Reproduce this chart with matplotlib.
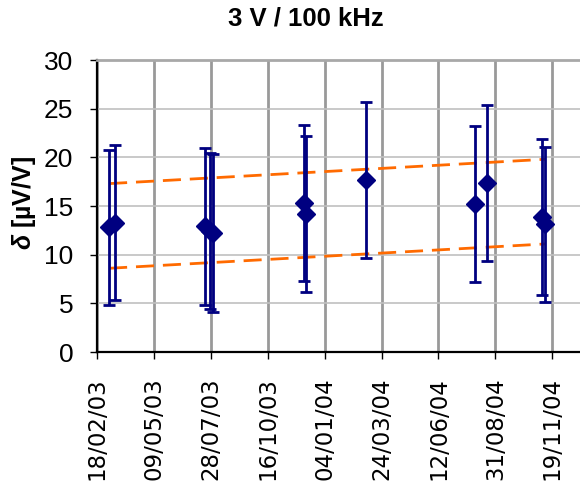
import matplotlib
matplotlib.use("Agg")
import matplotlib.pyplot as plt
import pandas as pd

DATES = [
    "2003-03-07", "2003-03-15", "2003-07-20", "2003-07-27", "2003-07-31",
    "2003-12-06", "2003-12-09", "2004-03-02", "2004-08-02", "2004-08-19",
    "2004-11-05", "2004-11-09",
]
DELTA = [12.8, 13.3, 12.9, 12.4, 12.2, 15.3, 14.2, 17.7, 15.2, 17.4, 13.9, 13.1]
ERR = [8.0, 8.0, 8.05, 8.0, 8.1, 8.0, 8.0, 8.0, 8.0, 8.0, 8.0, 8.0]

# limit lines (start / end)
LIMIT_DATES = ["2003-03-07", "2004-11-09"]
UPPER = [17.3, 19.8]
LOWER = [8.6, 11.1]

TICK_LABELS = [
    "18/02/03", "09/05/03", "28/07/03", "16/10/03", "04/01/04",
    "24/03/04", "12/06/04", "31/08/04", "19/11/04",
]
X_START = "2003-02-18"
X_END = "2004-12-28"

NAVY = "#000080"
ORANGE = "#FF6A00"

plt.rcParams["font.family"] = ["Liberation Sans", "DejaVu Sans"]
plt.rcParams["mathtext.fontset"] = "custom"
plt.rcParams["mathtext.it"] = "Liberation Sans:italic:bold"
plt.rcParams["mathtext.rm"] = "Liberation Sans:bold"

fig = plt.figure(figsize=(5.8, 4.87), dpi=100)
ax = fig.add_axes([97 / 580, 1 - 352 / 487, 1 - 97 / 580, 292 / 487])

dates = pd.to_datetime(DATES)
ax.errorbar(dates, DELTA, yerr=ERR, fmt="D", color=NAVY, ms=9,
            elinewidth=2.0, capsize=4.5, capthick=2.0, zorder=4)

ldates = pd.to_datetime(LIMIT_DATES)
for series in (UPPER, LOWER):
    ax.plot(ldates, series, color=ORANGE, lw=2.0, dashes=(6.5, 3.2), zorder=3)

ticks = pd.to_datetime(TICK_LABELS, format="%d/%m/%y")
ax.set_xticks(ticks)
ax.set_xticklabels(TICK_LABELS, rotation=90, fontsize=16.5, family="DejaVu Sans")
ax.set_xlim(pd.Timestamp(X_START), pd.Timestamp(X_END))

ax.set_ylim(0, 30)
ax.set_yticks(range(0, 31, 5))
ax.tick_params(axis="y", labelsize=19, length=5, width=1, pad=12)
ax.tick_params(axis="x", length=5, width=1, pad=13)

ax.grid(axis="x", color="#999999", lw=2, zorder=0)
ax.grid(axis="y", color="#c0c0c0", lw=1.2, zorder=0)
ax.set_axisbelow(True)

ax.spines["left"].set_linewidth(1.6)
ax.spines["bottom"].set_linewidth(1.6)
ax.spines["top"].set_color("#a8a8a8")
ax.spines["top"].set_linewidth(2)
ax.spines["right"].set_visible(False)

fig.text(306 / 580, 1 - 19 / 487, "3 V / 100 kHz", ha="center", va="center",
         fontsize=18.5, fontweight="bold")
fig.text(24 / 580, 1 - 203 / 487, r"$\delta$ [µV/V]", rotation=90,
         ha="center", va="center", fontsize=18, fontweight="bold")

fig.savefig("out.png", dpi=100)
